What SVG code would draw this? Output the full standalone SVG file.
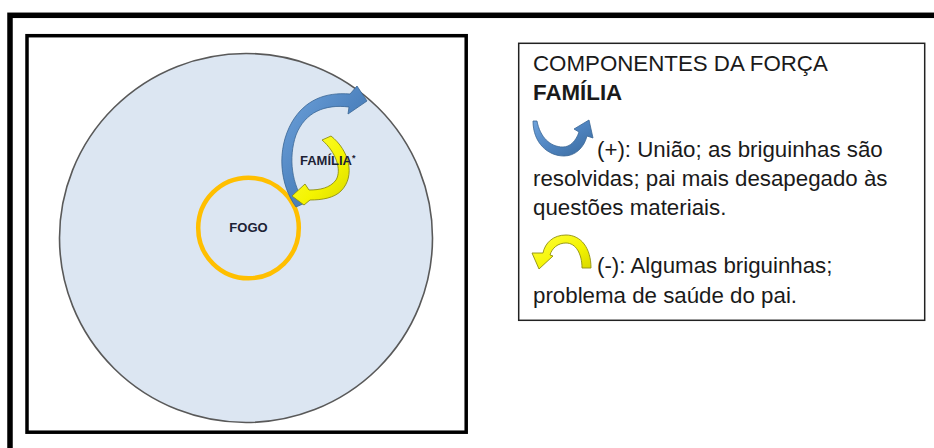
<svg xmlns="http://www.w3.org/2000/svg" width="934" height="448" viewBox="0 0 934 448">
  <style>
    .lbl { font-family: "Liberation Sans", Arial, sans-serif; font-weight: bold; font-size: 13px; fill: #1c2235; }
    .leg { font-family: "Liberation Sans", Arial, sans-serif; font-size: 22.3px; fill: #1a1a1a; }
    .b { font-weight: bold; }
    .blue { fill: url(#gBlue); stroke: #3a6694; stroke-width: 0.8; }
    .yel { fill: url(#gYel); stroke: #8f8f12; stroke-width: 0.9; }
  </style>
  <defs>
    <linearGradient id="gBlue" x1="0" y1="0" x2="1" y2="1">
      <stop offset="0" stop-color="#6fa3dc"/>
      <stop offset="0.5" stop-color="#4f84c0"/>
      <stop offset="1" stop-color="#3a6a9c"/>
    </linearGradient>
    <linearGradient id="gYel" x1="0" y1="0" x2="1" y2="1">
      <stop offset="0" stop-color="#ffff40"/>
      <stop offset="0.6" stop-color="#f4f400"/>
      <stop offset="1" stop-color="#d8d800"/>
    </linearGradient>
  </defs>

  <rect x="0" y="0" width="934" height="448" fill="#ffffff"/>

  <!-- outer frame -->
  <rect x="10" y="15.3" width="1000" height="500" fill="none" stroke="#000" stroke-width="5.5"/>

  <!-- left panel -->
  <g id="panel">
    <rect x="27" y="35.7" width="439.2" height="396.5" fill="#fff" stroke="#000" stroke-width="3.5"/>
  </g>

  <g id="node-campo">
    <ellipse cx="246" cy="238" rx="186.5" ry="184.5" fill="#dce6f2" stroke="#595959" stroke-width="1.6"/>
  </g>

  <g id="node-fogo">
    <circle cx="248.5" cy="228" r="50.3" fill="none" stroke="#ffbf00" stroke-width="4.5"/>
    <text class="lbl" x="248.5" y="232" text-anchor="middle">FOGO</text>
  </g>

  <g id="connectors">
    <path class="blue" d="M 296 207 C 280 185, 276 150, 292 122 C 305 100, 325 92, 350 94 L 357 86 L 367 101 L 348 114 L 349 107 C 325 104, 305 112, 296 135 C 288 158, 292 185, 305 203 Z"/>
    <path class="yel" d="M 322 140 L 331 136 C 349 150, 356 176, 341 191 C 334 198, 322 200, 310 200 L 304 205 L 292 196 L 305 184 L 309 190 C 320 190, 330 188, 336 180 C 342 170, 336 152, 322 140 Z"/>
  </g>

  <g id="node-familia">
    <text class="lbl" x="300" y="165">FAMÍLIA<tspan font-size="9" dy="-4">*</tspan></text>
  </g>

  <g id="legend">
    <rect x="518.7" y="43.3" width="406" height="277" fill="#fff" stroke="#222" stroke-width="1.5"/>
    <text class="leg" x="533" y="71">COMPONENTES DA FORÇA</text>
    <text class="leg b" x="533" y="100">FAMÍLIA</text>
    <path class="blue" d="M 533 121 C 533 143, 548 156, 564 156 C 575 156, 584 148, 587 136 L 593 138 L 589 120 L 574 129 L 579 132 C 576 141, 570 147, 563 147 C 550 147, 540 137, 537 121 Z"/>
    <text class="leg" x="597" y="157">(+): União; as briguinhas são</text>
    <text class="leg" x="533" y="186">resolvidas; pai mais desapegado às</text>
    <text class="leg" x="533" y="215">questões materiais.</text>
    <path class="yel" d="M 582 268 L 591 268 C 591 248, 581 235, 566 235 C 553 235, 545 243, 543 253 L 532 253 L 539 269 L 553 256 L 550 255 C 552 248, 558 243, 566 243 C 576 243, 582 254, 582 268 Z"/>
    <text class="leg" x="597" y="273">(-): Algumas briguinhas;</text>
    <text class="leg" x="533" y="303">problema de saúde do pai.</text>
  </g>
</svg>
